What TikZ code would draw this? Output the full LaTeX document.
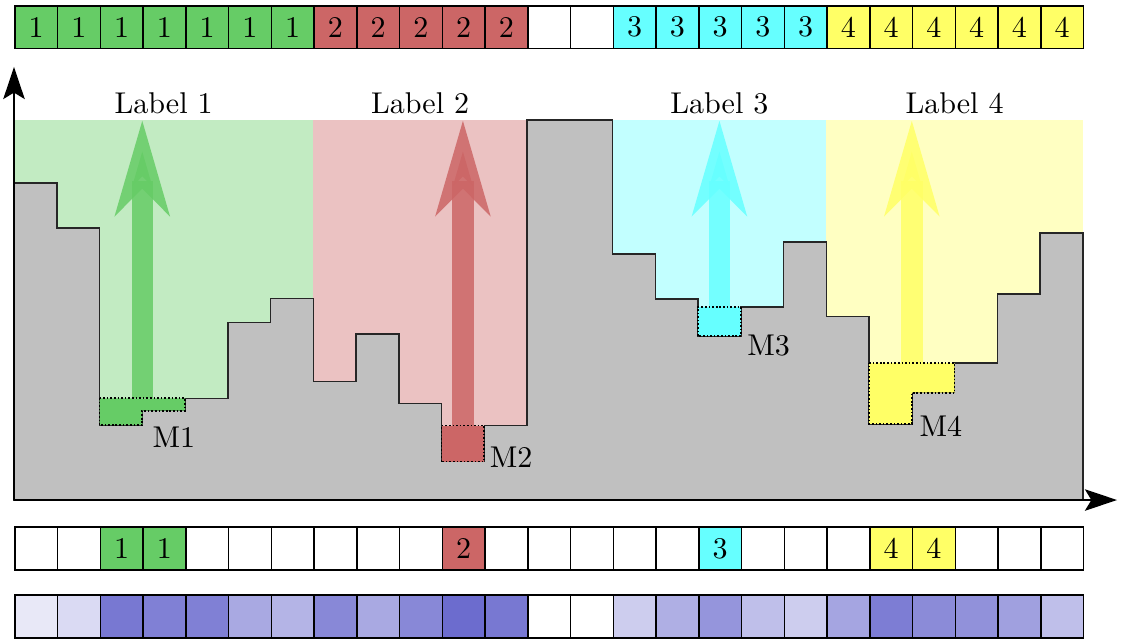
\documentclass[tikz,border=0pt]{standalone}
\usetikzlibrary{arrows.meta}

\definecolor{col0}{RGB}{255,255,255}
\definecolor{col1}{RGB}{102,204,102}
\definecolor{col2}{RGB}{204,102,102}
\definecolor{col3}{RGB}{102,255,255}
\definecolor{col4}{RGB}{255,255,102}
\definecolor{terrain}{RGB}{192,192,192}
\definecolor{bshade}{RGB}{102,102,204}

\begin{document}
\begin{tikzpicture}[x=1cm, y=1cm,
  cell/.style = {draw, line width=1pt, minimum size=1cm, inner sep=0pt,
    anchor=south west, font=\normalsize},
  ground/.style = {fill=terrain, draw=black!85, line width=1pt},
  marker/.style = {draw=black, line width=1.1pt, dash pattern=on 1.1pt off 1.3pt},
  flood/.style = {line width=0.5cm, opacity=0.85,
    -{Stealth[length=2.2cm, width=1.24cm, inset=0.6cm]}},
  axis/.style = {line width=1.6pt, -{Stealth[length=0.75cm, width=0.5cm, inset=0.15cm]}},
  tag/.style = {anchor=base, inner sep=0pt, scale=2, font=\normalsize}]
  \useasboundingbox (-0.3275,-3.275) rectangle (26.08,11.696);

  \fill[col1!40] (0,0) rectangle (7,8.89);
  \fill[col2!40] (7,0) rectangle (12,8.89);
  \fill[col3!40] (14,0) rectangle (19,8.89);
  \fill[col4!40] (19,0) rectangle (25,8.89);

  \draw[ground] (0,0)
    foreach \h [count=\i] in {7.42,6.36,1.75,2.09,2.38,4.15,4.71,2.77,3.88,2.26,
      0.90,1.74,8.89,8.89,5.75,4.70,3.84,4.52,6.03,4.29,1.78,2.51,3.20,4.82,6.25}
      { |- (\i,\h) } -- (25,0) -- cycle;

  \coordinate (m1top) at (3,2.38);   \coordinate (l1top) at (3,8.89);
  \coordinate (m2top) at (10.5,1.74); \coordinate (l2top) at (10.5,8.89);
  \coordinate (m3top) at (16.5,4.52); \coordinate (l3top) at (16.5,8.89);
  \coordinate (m4top) at (21,3.20);  \coordinate (l4top) at (21,8.89);

  \draw[flood, col1] (m1top) -- (l1top);
  \draw[flood, col2] (m2top) -- (l2top);
  \draw[flood, col3] (m3top) -- (l3top);
  \draw[flood, col4] (m4top) -- (l4top);

  \fill[col1] (2,2.38) -- (4,2.38) -- (4,2.09) -- (3,2.09) -- (3,1.75) -- (2,1.75) -- cycle;
  \draw[marker] (2,2.38) -- (4,2.38) -- (4,2.09) -- (3,2.09) -- (3,1.75) -- (2,1.75) -- cycle;
  \fill[col2] (10,0.90) rectangle (11,1.74);
  \draw[marker] (10,0.90) rectangle (11,1.74);
  \fill[col3] (16,3.84) rectangle (17,4.52);
  \draw[marker] (16,3.84) rectangle (17,4.52);
  \fill[col4] (20,3.20) -- (22,3.20) -- (22,2.51) -- (21,2.51) -- (21,1.78) -- (20,1.78) -- cycle;
  \draw[marker] (20,3.20) -- (22,3.20) -- (22,2.51) -- (21,2.51) -- (21,1.78) -- (20,1.78) -- cycle;

  \node[tag] (m1) at (3.74,1.22) {M1};
  \node[tag] (m2) at (11.63,0.75) {M2};
  \node[tag] (m3) at (17.65,3.39) {M3};
  \node[tag] (m4) at (21.68,1.48) {M4};

  \node[tag] (lab1) at (3.5,9.05) {Label 1};
  \node[tag] (lab2) at (9.5,9.05) {Label 2};
  \node[tag] (lab3) at (16.5,9.05) {Label 3};
  \node[tag] (lab4) at (22,9.05) {Label 4};

  \coordinate (origin) at (0,0);
  \coordinate (ytip) at (0,10.13);
  \coordinate (xtip) at (25.8,0);
  \draw[axis] (origin) -- (ytip);
  \draw[axis] (origin) -- (xtip);

  \foreach \lab [count=\i from 0] in {1,1,1,1,1,1,1,2,2,2,2,2,0,0,3,3,3,3,3,4,4,4,4,4,4}
    \node[cell, fill=col\lab] (top\i) at (\i,10.54) {\ifnum\lab>0 \scalebox{2}{\lab}\fi};

  \foreach \lab [count=\i from 0] in {0,0,1,1,0,0,0,0,0,0,2,0,0,0,0,0,3,0,0,0,4,4,0,0,0}
    \node[cell, fill=col\lab] (seed\i) at (\i,-1.65) {\ifnum\lab>0 \scalebox{2}{\lab}\fi};

  \foreach \p [count=\i from 0] in {15,24,88,83,83,56,49,78,56,78,96,88,0,0,
      33,52,69,42,33,59,85,76,72,62,42}
    \node[cell, fill=bshade!\p!white] (dist\i) at (\i,-3.24) {};
\end{tikzpicture}
\end{document}
